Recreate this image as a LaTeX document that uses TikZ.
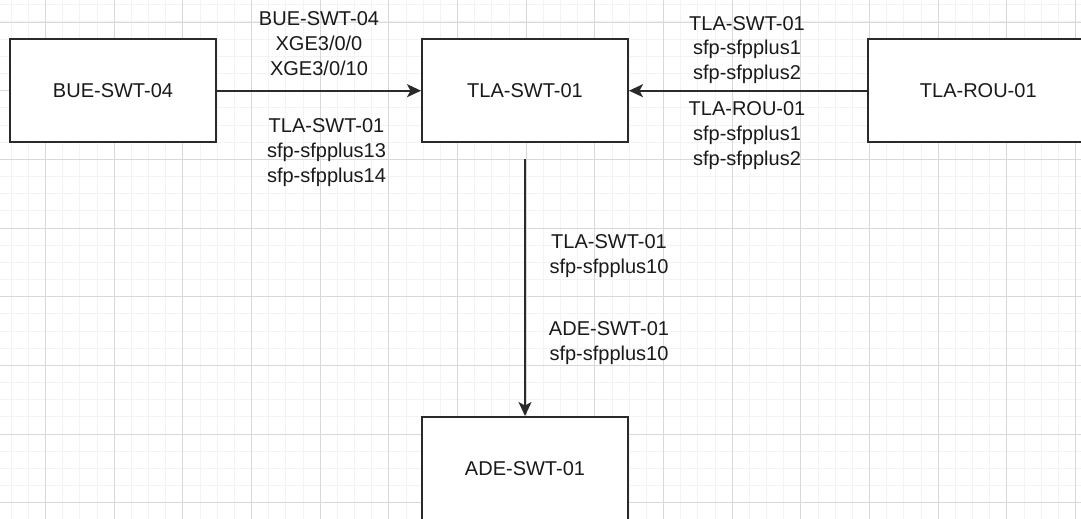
\documentclass[tikz,border=0pt]{standalone}
\usepackage{fontspec}
\setmainfont{Liberation Sans}
\usetikzlibrary{arrows.meta}
\definecolor{gridminor}{HTML}{F3F3F3}
\definecolor{gridmajor}{HTML}{D8D8D8}
\definecolor{ink}{HTML}{1A1A1A}
\definecolor{edgecol}{HTML}{2A2A2A}
\begin{document}
\begin{tikzpicture}[x=1pt,y=-1pt,
  font=\fontsize{20pt}{25pt}\selectfont,
  minorline/.style={draw=gridminor,line width=1.2pt},
  majorline/.style={draw=gridmajor,line width=1.5pt},
  device/.style={draw=edgecol,line width=2pt,fill=white,minimum width=206pt,minimum height=103pt,inner sep=0pt,text=ink},
  link/.style={draw=edgecol,line width=1.7pt,-{Stealth[length=14pt,width=13pt,inset=3.5pt]}},
  lbl/.style={align=center,inner sep=0pt,anchor=base,text=ink}]
\useasboundingbox (0,0) rectangle (1081,519);
\clip (0,0) rectangle (1081,519);
\fill[white] (0,0) rectangle (1081,519);
% grid
\foreach \k in {0,...,62} {\draw[minorline] ({round(10.665+17.1675*\k)+0.5},0) -- ({round(10.665+17.1675*\k)+0.5},519);}
\foreach \k in {0,...,29} {\draw[minorline] (0,{round(4.33+17.1675*\k)+0.5}) -- (1081,{round(4.33+17.1675*\k)+0.5});}
\foreach \k in {0,...,15} {\draw[majorline] ({round(45+68.67*\k)+0.5},0) -- ({round(45+68.67*\k)+0.5},519);}
\foreach \k in {0,...,7} {\draw[majorline] (0,{round(21.5+68.67*\k)+0.5}) -- (1081,{round(21.5+68.67*\k)+0.5});}
% devices
\node[device] (bue) at (113,90.7) {BUE-SWT-04};
\node[device] (tlaswt) at (525,90.7) {TLA-SWT-01};
\node[device,minimum width=220pt] (tlarou) at (978.3,90.7) {TLA-ROU-01};
\node[device,minimum height=104pt] (ade) at (525,469) {ADE-SWT-01};
\coordinate (vstart) at (525,159);
% connectors
\draw[link] (bue.east) -- (tlaswt.west);
\draw[link] (tlarou.west) -- (tlaswt.east);
\draw[link] (vstart) -- (ade.north);
% labels (base = baseline of last line)
\node[lbl] (l1) at (319,75.5) {BUE-SWT-04\\XGE3/0/0\\XGE3/0/10};
\node[lbl] (l2) at (326.5,182.7) {TLA-SWT-01\\sfp-sfpplus13\\sfp-sfpplus14};
\node[lbl] (l3) at (747,80) {TLA-SWT-01\\sfp-sfpplus1\\sfp-sfpplus2};
\node[lbl] (l4) at (747,165) {TLA-ROU-01\\sfp-sfpplus1\\sfp-sfpplus2};
\node[lbl] (l5) at (609,273.3) {TLA-SWT-01\\sfp-sfpplus10};
\node[lbl] (l6) at (609,360) {ADE-SWT-01\\sfp-sfpplus10};
\end{tikzpicture}
\end{document}
